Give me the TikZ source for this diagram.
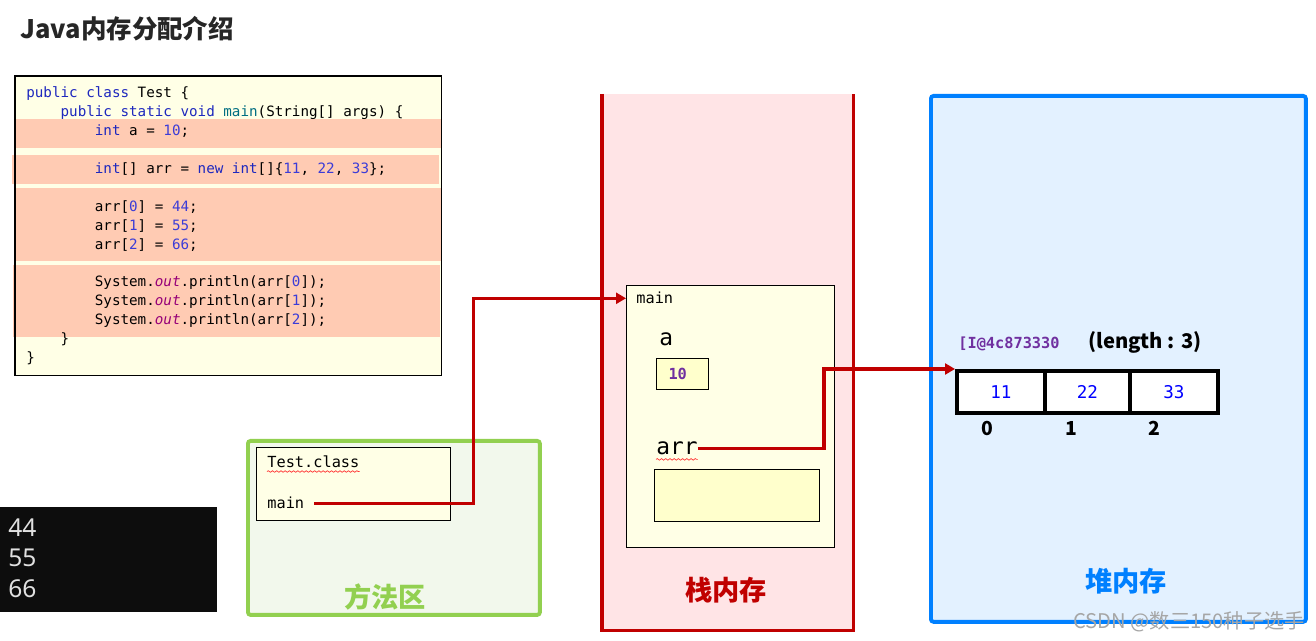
\documentclass[tikz,border=0pt]{standalone}
\usepackage{fontspec}
\setmainfont{Noto Sans}
\setmonofont{DejaVu Sans Mono}
\newfontfamily\cjk{Noto Sans CJK SC}
\usepackage{xcolor}
\usetikzlibrary{arrows.meta, positioning, calc, decorations.pathmorphing}

\definecolor{codefill}{RGB}{255,255,230}
\definecolor{bandfill}{RGB}{255,203,179}
\definecolor{kw}{RGB}{30,40,190}
\definecolor{num}{RGB}{60,60,215}
\definecolor{mth}{RGB}{0,110,130}
\definecolor{outc}{RGB}{150,0,120}
\definecolor{stackred}{RGB}{192,0,0}
\definecolor{stackfill}{RGB}{255,228,230}
\definecolor{heapblue}{RGB}{0,128,255}
\definecolor{heapfill}{RGB}{227,241,255}
\definecolor{methgreen}{RGB}{146,208,80}
\definecolor{methfill}{RGB}{242,248,236}
\definecolor{slotfill}{RGB}{255,255,204}
\definecolor{addrpurple}{RGB}{112,48,160}

\newcommand\codefont{\fontsize{8.1}{10.8}\selectfont\ttfamily}
\newcommand\tA{\phantom{0000}}
\newcommand\tB{\phantom{00000000}}

\begin{document}
\begin{tikzpicture}[
  x=0.02cm, y=-0.02cm,
  %% box styles
  panel/.style={rectangle, anchor=north west, inner sep=0pt},
  codebox/.style={panel, fill=codefill},
  edge/.style={draw=black, line width=0.6pt},
  yellowbox/.style={panel, edge, fill=codefill},
  slot/.style={panel, edge, fill=slotfill},
  cell/.style={rectangle, draw=black, line width=2.2pt, fill=white,
    minimum height=0.84cm, inner sep=0pt,
    font=\fontsize{10}{12}\selectfont\ttfamily, text=blue},
  %% text styles
  txt/.style={anchor=base west, inner sep=0pt},
  mono/.style={txt, font=\fontsize{8.7}{10}\selectfont\ttfamily},
  bigmono/.style={txt, font=\fontsize{13}{15}\selectfont\ttfamily},
  area/.style={font=\cjk\bfseries\fontsize{15.5}{18}\selectfont},
  idx/.style={font=\cjk\bfseries\fontsize{11}{13}\selectfont},
  %% connectors
  ref/.style={-{Triangle[length=0.2cm, width=0.22cm]}, line width=1.8pt, stackred},
  squiggle/.style={decorate, decoration={snake, amplitude=0.45pt, segment length=2.4pt},
    red!80, line width=0.4pt}
]
\useasboundingbox (0,0) rectangle (1316,641);

%% ── Title ────────────────────────────────────────────────────────────────
\node[anchor=west, inner sep=0pt, text=black!85,
  font=\cjk\bfseries\fontsize{14.5}{16}\selectfont] (title) at (20,29) {Java内存分配介绍};

%% ── Source code ──────────────────────────────────────────────────────────
\node[codebox, minimum width=8.52cm, minimum height=5.98cm] (code) at (15,76) {};
\fill[bandfill] (15,119) rectangle (441,148);
\fill[bandfill] (12,155) rectangle (439,184);
\fill[bandfill] (15,188) rectangle (441,261);
\fill[bandfill] (13,265) rectangle (440,337);
\draw[edge] (code.north west) rectangle (code.south east);
\node[anchor=north west, inner sep=0pt, align=left, font=\codefont] (src) at (26,86) {%
  \textcolor{kw}{public} \textcolor{kw}{class} Test \{\\
  \tA\textcolor{kw}{public} \textcolor{kw}{static} \textcolor{kw}{void} \textcolor{mth}{main}(String[] args) \{\\
  \tB\textcolor{kw}{int} a = \textcolor{num}{10};\\
  \mbox{}\\
  \tB\textcolor{kw}{int}[] arr = \textcolor{kw}{new} \textcolor{kw}{int}[]\{\textcolor{num}{11}, \textcolor{num}{22}, \textcolor{num}{33}\};\\
  \mbox{}\\
  \tB arr[\textcolor{num}{0}] = \textcolor{num}{44};\\
  \tB arr[\textcolor{num}{1}] = \textcolor{num}{55};\\
  \tB arr[\textcolor{num}{2}] = \textcolor{num}{66};\\
  \mbox{}\\
  \tB System.\textcolor{outc}{\itshape out}.println(arr[\textcolor{num}{0}]);\\
  \tB System.\textcolor{outc}{\itshape out}.println(arr[\textcolor{num}{1}]);\\
  \tB System.\textcolor{outc}{\itshape out}.println(arr[\textcolor{num}{2}]);\\
  \tA\}\\
  \}};

%% ── Console output ───────────────────────────────────────────────────────
\node[panel, fill=black!95, minimum width=4.34cm, minimum height=2.1cm] (console) at (0,507) {};
\node[anchor=north west, inner sep=0pt, align=left, text=black!12,
  font=\fontsize{14}{17.6}\selectfont] (printed) at (8,518) {44\\55\\66};

%% ── Method area ──────────────────────────────────────────────────────────
\node[panel, draw=methgreen, line width=2.2pt, rounded corners=1.5pt, fill=methfill,
  minimum width=5.84cm, minimum height=3.48cm] (method) at (246,439) {};
\node[yellowbox, minimum width=3.88cm, minimum height=1.46cm] (cls) at (256,447) {};
\node[mono] (tcls) at (267,468) {Test.class};
\node[mono] (clsmain) at (267,509) {main};
\node[area, text=methgreen] (methlbl) at (385,597) {方法区};

%% ── Stack memory ─────────────────────────────────────────────────────────
\node[panel, fill=stackfill, minimum width=5.02cm, minimum height=10.72cm] (stack) at (602,94) {};
\draw[stackred, line width=2pt]
  (stack.north west) -- (stack.south west) -- (stack.south east) -- (stack.north east);
\node[yellowbox, minimum width=4.16cm, minimum height=5.24cm] (frame) at (626,285) {};
\node[mono] (fmain) at (636,304) {main};
\node[bigmono] (vara) at (659,346) {a};
\node[slot, minimum width=1.04cm, minimum height=0.62cm, text width=0.56cm, inner xsep=0.24cm,
  align=left, font=\bfseries\fontsize{8.7}{10}\selectfont\ttfamily, text=addrpurple] (valbox) at (656,358) {10};
\node[bigmono] (vararr) at (656,455) {arr};
\node[slot, minimum width=3.3cm, minimum height=1.04cm] (refbox) at (654,469) {};
\node[area, text=stackred] (stacklbl) at (726,590) {栈内存};

%% ── Heap memory ──────────────────────────────────────────────────────────
\node[panel, draw=heapblue, line width=2.2pt, rounded corners=1.5pt, fill=heapfill,
  minimum width=7.5cm, minimum height=10.52cm] (heap) at (929,94) {};
\node[txt, font=\bfseries\fontsize{8.7}{10}\selectfont\ttfamily, text=addrpurple] (addr) at (958,349) {[I@4c873330};
\node[txt, font=\cjk\bfseries\fontsize{11.5}{13}\selectfont] (len) at (1088,349) {(length : 3)};
\node[cell, anchor=north west, minimum width=1.76cm] (c0) at (955,369) {11};
\node[cell, right=-2.2pt of c0, minimum width=1.7cm] (c1) {22};
\node[cell, right=-2.2pt of c1, minimum width=1.76cm] (c2) {33};
\node[idx] (i0) at (987,428) {0};
\node[idx] (i1) at (1071,428) {1};
\node[idx] (i2) at (1154,428) {2};
\node[area, text=heapblue] (heaplbl) at (1126,581) {堆内存};

%% watermark
\node[anchor=west, inner sep=0pt, text=black!35,
  font=\cjk\fontsize{11.5}{13}\selectfont] (wm) at (1073,622) {CSDN @数三150种子选手};

%% ──────────────────────── Arrows ─────────────────────────────────────────
\draw[squiggle] ([yshift=-2pt]tcls.base west) -- ([yshift=-2pt]tcls.base east);
\draw[squiggle] ([yshift=-2.5pt]vararr.base west) -- ([yshift=-2.5pt]vararr.base east);

%% method area main -> stack frame
\draw[ref] ([xshift=5.5pt]clsmain.east) -- ++(159,0) |- (frame.west |- fmain);
%% arr -> heap array
\draw[ref] (vararr.east) -- ++(126,0) |- (c0.north west);

\end{tikzpicture}
\end{document}
